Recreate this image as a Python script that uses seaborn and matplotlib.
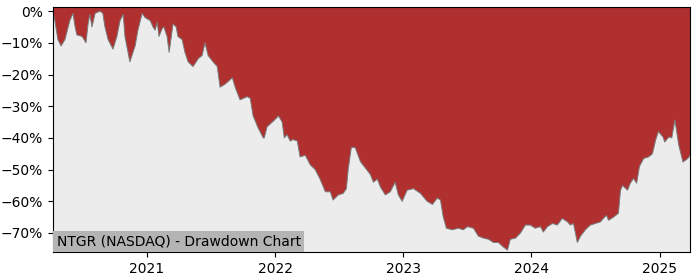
import matplotlib
matplotlib.use("Agg")
import matplotlib.pyplot as plt
import matplotlib.dates as mdates
from matplotlib.ticker import PercentFormatter
import seaborn as sns
import pandas as pd

dates = [
    "2020-04-08", "2020-04-11", "2020-04-22", "2020-05-01", "2020-05-12", "2020-05-26",
    "2020-06-04", "2020-06-10", "2020-06-15", "2020-06-30", "2020-07-11", "2020-07-17",
    "2020-07-22", "2020-07-28", "2020-08-06", "2020-08-20", "2020-08-28", "2020-09-03",
    "2020-09-12", "2020-09-26", "2020-10-07", "2020-10-16", "2020-10-25", "2020-10-30",
    "2020-11-13", "2020-11-28", "2020-12-06", "2020-12-18", "2020-12-26",
    "2021-01-10", "2021-01-18", "2021-01-24", "2021-01-30", "2021-02-04", "2021-02-13",
    "2021-02-18", "2021-02-27", "2021-03-05", "2021-03-13", "2021-03-16", "2021-03-25",
    "2021-03-30", "2021-04-11", "2021-04-19", "2021-04-28", "2021-05-12", "2021-05-27",
    "2021-06-07", "2021-06-15", "2021-06-24", "2021-07-08", "2021-07-20", "2021-07-28",
    "2021-08-12", "2021-09-01", "2021-09-09", "2021-09-23", "2021-10-13", "2021-10-22",
    "2021-10-30", "2021-11-14", "2021-11-19", "2021-11-28", "2021-12-01", "2021-12-09",
    "2021-12-24",
    "2022-01-07", "2022-01-10", "2022-01-21", "2022-01-27", "2022-02-04", "2022-02-13",
    "2022-02-21", "2022-03-05", "2022-03-13", "2022-03-28", "2022-04-11", "2022-04-25",
    "2022-05-09", "2022-05-24", "2022-06-07", "2022-06-15", "2022-06-30", "2022-07-14",
    "2022-07-23", "2022-07-28", "2022-08-06", "2022-08-17", "2022-09-01", "2022-09-15",
    "2022-09-29", "2022-10-08", "2022-10-19", "2022-10-28", "2022-11-11", "2022-11-25",
    "2022-12-09", "2022-12-18", "2022-12-29",
    "2023-01-12", "2023-01-30", "2023-02-19", "2023-03-10", "2023-03-25", "2023-04-08",
    "2023-04-17", "2023-04-25", "2023-05-04", "2023-05-21", "2023-06-07", "2023-06-21",
    "2023-07-03", "2023-07-20", "2023-08-03", "2023-08-17", "2023-09-01", "2023-09-15",
    "2023-09-29", "2023-10-13", "2023-10-25", "2023-11-02", "2023-11-17", "2023-12-01",
    "2023-12-15", "2023-12-29",
    "2024-01-12", "2024-01-27", "2024-02-04", "2024-02-16", "2024-03-01", "2024-03-15",
    "2024-03-29", "2024-04-13", "2024-04-21", "2024-04-30", "2024-05-11", "2024-05-20",
    "2024-06-03", "2024-06-17", "2024-07-02", "2024-07-16", "2024-07-24", "2024-08-02",
    "2024-08-08", "2024-08-22", "2024-09-05", "2024-09-11", "2024-09-17", "2024-10-01",
    "2024-10-09", "2024-10-18", "2024-10-27", "2024-11-04", "2024-11-16", "2024-11-30",
    "2024-12-11", "2024-12-20", "2024-12-28",
    "2025-01-10", "2025-01-15", "2025-01-27", "2025-02-04", "2025-02-13", "2025-02-24",
    "2025-03-08", "2025-03-22", "2025-03-28",
]

drawdown_pct = [
    -0.5, -1.5, -9, -11, -9, -3,
    -0.7, -5, -7.5, -8, -10, -4,
    -1, -5, -0.7, 0, -0.7, -5,
    -9, -12, -8, -3, -1, -8,
    -16, -11, -6, -0.7, -2,
    -3, -5, -6, -3.5, -8, -5.5,
    -5, -8, -13, -6.5, -4, -5,
    -8, -9, -13, -16, -17.5, -15,
    -14, -10, -14, -16, -17.5, -24,
    -23, -21, -24, -28, -27, -27.5,
    -33, -37, -38, -40, -40, -36.5,
    -35,
    -33.5, -33, -35, -40, -39, -41,
    -40.5, -41, -46, -45.5, -48.5, -50,
    -53, -57, -57, -59.6, -58, -57.5,
    -56, -50, -43, -43, -47.5, -49.5,
    -51.5, -54, -53, -55.5, -58, -57,
    -54, -58, -60,
    -56.5, -56, -57.5, -60, -61, -59,
    -59.6, -65, -68.5, -69, -68.5, -69,
    -68, -68.5, -71, -71.6, -72, -73,
    -73, -74.4, -75.4, -72, -71.6, -70,
    -67.5, -67.5,
    -68.5, -68, -69.7, -68, -67, -67.5,
    -65.4, -66.5, -67.5, -67, -73, -71,
    -69, -67.5, -67, -66.5, -65.4, -64.4,
    -66, -65, -63.8, -56.5, -55, -56.5,
    -54.3, -52.8, -54.3, -49, -46.5, -46,
    -45, -40.7, -38,
    -39.7, -41.3, -39.7, -40, -34.4, -42.3,
    -47.6, -46.5, -45.5,
]

title_text = "NTGR (NASDAQ) - Drawdown Chart"
year_ticks = ["2021-01-01", "2022-01-01", "2023-01-01", "2024-01-01", "2025-01-01"]
y_ticks = [0, -10, -20, -30, -40, -50, -60, -70]

df = pd.DataFrame({"date": pd.to_datetime(dates), "dd": drawdown_pct})

fig = plt.figure(figsize=(7, 2.8), dpi=100)
ax = fig.add_axes([53 / 700, 28 / 280, 637 / 700, 245 / 280])
ax.set_facecolor("#b03030")

ax.fill_between(df["date"], df["dd"], -100, color="#ececec", linewidth=0, zorder=1)
sns.lineplot(data=df, x="date", y="dd", ax=ax, color="#7a7a7a", linewidth=0.7, zorder=2)

ax.set_xlim(df["date"].min(), df["date"].max())
ax.set_ylim(-76, 1.3)
ax.set_yticks(y_ticks)
ax.yaxis.set_major_formatter(PercentFormatter(decimals=0))
ax.set_xticks(pd.to_datetime(year_ticks))
ax.xaxis.set_major_formatter(mdates.DateFormatter("%Y"))
ax.set_xlabel("")
ax.set_ylabel("")
ax.tick_params(labelsize=10)

ax.text(0.006, 0.016, title_text, transform=ax.transAxes, fontsize=10,
        ha="left", va="bottom", zorder=5,
        bbox=dict(facecolor="#b4b4b4", edgecolor="none", pad=2.5))

fig.savefig("out.png", dpi=100)
